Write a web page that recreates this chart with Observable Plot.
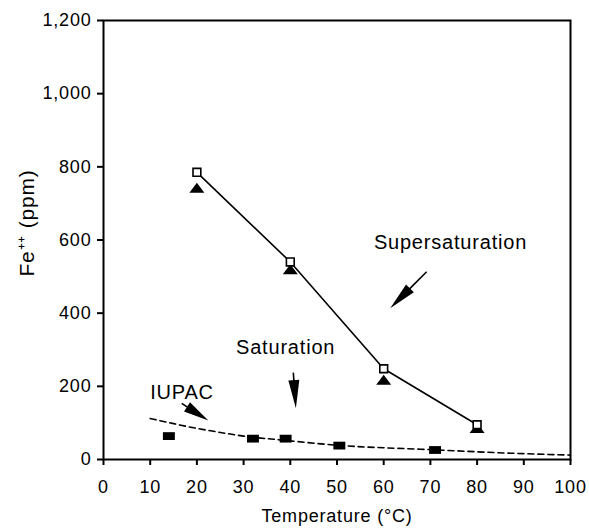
<!DOCTYPE html>
<html>
<head>
<meta charset="utf-8">
<script src="https://cdn.jsdelivr.net/npm/d3@7"></script>
<script src="https://cdn.jsdelivr.net/npm/@observablehq/plot@0.6"></script>
<style>
  html, body { margin: 0; padding: 0; background: white; }
</style>
</head>
<body>
<div id="chart"></div>
<script>
// ---- data ----
const xTicks = [0, 10, 20, 30, 40, 50, 60, 70, 80, 90, 100];
const yTicks = [0, 200, 400, 600, 800, 1000, 1200];

// Supersaturation: open squares (joined by solid line) and filled triangles
const superTemp = [20, 40, 60, 80];
const superSquare = [785, 540, 248, 95];
const superTriangle = [743, 520, 218, 86];

// Saturation: filled squares
const satTemp = [14, 32, 39, 50.5, 71];
const satValue = [64, 57, 57, 38, 26];

// IUPAC dashed curve
const iupacTemp = [10, 15, 20, 25, 30, 35, 40, 50, 60, 70, 80, 90, 100];
const iupacValue = [112, 98, 85, 74, 64, 57, 51, 39, 32, 27, 21, 16, 12];

// annotations
const noteText = ["Supersaturation", "Saturation", "IUPAC"];
const noteX = [74.3, 39.0, 16.8];
const noteY = [593, 305, 182];
const arrowX1 = [69.3, 40.75, 16.85];
const arrowY1 = [512, 236, 152];
const arrowX2 = [61.5, 41.3, 22.55];
const arrowY2 = [412, 139, 105];

const xLabel = ["Temperature (°C)"];
const yLabel = ["Fe⁺⁺ (ppm)"];

// ---- tables built from the arrays ----
const superData = superTemp.map((t, i) => ({t, sq: superSquare[i], tri: superTriangle[i]}));
const satData = satTemp.map((t, i) => ({t, v: satValue[i]}));
const iupacData = iupacTemp.map((t, i) => ({t, v: iupacValue[i]}));
const notes = noteText.map((s, i) => ({s, x: noteX[i], y: noteY[i]}));

// custom symbols
const flatTriangle = {
  draw(ctx, size) {
    const r = Math.sqrt(size / Math.PI);
    ctx.moveTo(0, -r);
    ctx.lineTo(1.5 * r, r);
    ctx.lineTo(-1.5 * r, r);
    ctx.closePath();
  }
};
const flatSquare = {
  draw(ctx, size) {
    const r = Math.sqrt(size / Math.PI);
    ctx.rect(-1.3 * r, -0.85 * r, 2.6 * r, 1.7 * r);
  }
};

// arrows with long, narrow filled heads, positioned through Plot's scales
function arrowMark(index, scales) {
  const g = d3.create("svg:g");
  for (let i = 0; i < arrowX1.length; i++) {
    const x1 = scales.x(arrowX1[i]), y1 = scales.y(arrowY1[i]);
    const x2 = scales.x(arrowX2[i]), y2 = scales.y(arrowY2[i]);
    const dx = x2 - x1, dy = y2 - y1, L = Math.hypot(dx, dy);
    const ux = dx / L, uy = dy / L;
    const h = Math.min(28, L * 0.8), w = 5.5;
    const bx = x2 - ux * h, by = y2 - uy * h;
    g.append("line")
      .attr("x1", x1).attr("y1", y1).attr("x2", bx + ux * 2).attr("y2", by + uy * 2)
      .attr("stroke", "black").attr("stroke-width", 1.6);
    g.append("path")
      .attr("d", `M${x2},${y2}L${bx - uy * w},${by + ux * w}L${bx + uy * w},${by - ux * w}Z`)
      .attr("fill", "black");
  }
  return g.node();
}

const chart = Plot.plot({
  width: 589,
  height: 531,
  marginLeft: 103,
  marginRight: 19,
  marginTop: 20,
  marginBottom: 72,
  style: {
    fontFamily: "'Liberation Sans', Arial, Helvetica, sans-serif",
    fontSize: "18px",
    color: "black",
    background: "white",
    letterSpacing: "0.8px"
  },
  x: {domain: [0, 100]},
  y: {domain: [0, 1200]},
  marks: [
    Plot.axisX({ticks: xTicks, tickSize: 6, tickPadding: 15, strokeWidth: 2, label: null}),
    Plot.axisY({ticks: yTicks, tickFormat: d3.format(","), tickSize: 6, tickPadding: 6, strokeWidth: 2, label: null}),
    Plot.frame({stroke: "black", strokeWidth: 2}),
    Plot.line(iupacData, {x: "t", y: "v", curve: "natural", stroke: "black", strokeWidth: 1.6, strokeDasharray: "6,4"}),
    Plot.dot(satData, {x: "t", y: "v", symbol: flatSquare, r: 4.6, fill: "black", stroke: "none"}),
    Plot.dot(superData, {x: "t", y: "tri", symbol: flatTriangle, r: 5, fill: "black", stroke: "none"}),
    Plot.line(superData, {x: "t", y: "sq", stroke: "black", strokeWidth: 1.6}),
    Plot.dot(superData, {x: "t", y: "sq", symbol: "square", r: 4.4, fill: "white", stroke: "black", strokeWidth: 1.6}),
    Plot.text(notes, {x: "x", y: "y", text: "s", fontSize: 20, fill: "black", textAnchor: "middle"}),
    arrowMark,
    Plot.text(xLabel, {text: d => d, frameAnchor: "bottom", textAnchor: "middle", lineAnchor: "middle", dy: 57, fontSize: 18, fill: "black"}),
    Plot.text(yLabel, {text: d => d, frameAnchor: "left", textAnchor: "middle", lineAnchor: "middle", dx: -76, dy: -17, rotate: -90, fontSize: 21, fill: "black"})
  ]
});

document.getElementById("chart").appendChild(chart);
</script>
</body>
</html>
